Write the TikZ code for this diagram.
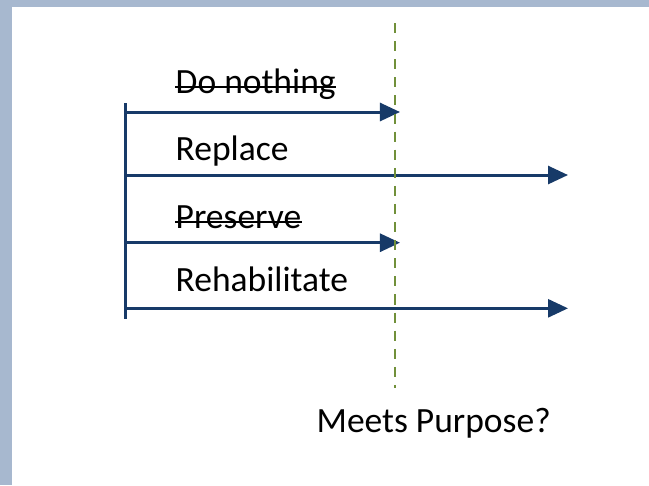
\documentclass[tikz,border=0pt]{standalone}
\usepackage{fontspec}
\setmainfont{Carlito}
\usetikzlibrary{arrows.meta,calc}
\definecolor{framegray}{HTML}{A7B8CF}
\definecolor{optblue}{HTML}{173A68}
\definecolor{purposegreen}{HTML}{71903A}
\tikzset{
  option/.style={anchor=base west, inner sep=0pt, font=\fontsize{10.1}{12}\selectfont},
  optarrow/.style={optblue, line width=0.85pt, -{Triangle[length=5.7pt,width=5.1pt]}},
  strike/.style={black, line width=0.55pt}
}
\begin{document}
\begin{tikzpicture}[scale=0.1]
                          \useasboundingbox (0,0) rectangle (64.9,-48.5);
                          \fill [white] (0,0) rectangle (64.9,-48.5);
                          \fill [framegray] (0,0) rectangle (64.9,-0.7);
                          \fill [framegray] (0,0) rectangle (1.2,-48.5);
                          \coordinate (top) at (12.5,-10.3);
                          \coordinate (bottom) at (12.5,-31.85);
                          \coordinate (s1) at (12.5,-11.2);
                          \coordinate (e1) at (40.0,-11.2);
                          \coordinate (s2) at (12.5,-17.5);
                          \coordinate (e2) at (56.8,-17.5);
                          \coordinate (s3) at (12.5,-24.27);
                          \coordinate (e3) at (40.0,-24.27);
                          \coordinate (s4) at (12.5,-30.83);
                          \coordinate (e4) at (56.8,-30.83);
                          \coordinate (gtop) at (39.5,-2.3);
                          \coordinate (gbottom) at (39.5,-38.8);
                          \draw [optblue, line width=0.85pt] (top) -- (bottom);
                          \draw [optarrow] (s1) -- (e1);
                          \draw [optarrow] (s2) -- (e2);
                          \draw [optarrow] (s3) -- (e3);
                          \draw [optarrow] (s4) -- (e4);
                          \node [option] (nothing) at (17.5,-9.3) {Do nothing};
                          \node [option] (replace) at (17.5,-16.0) {Replace};
                          \node [option] (preserve) at (17.5,-22.83) {Preserve};
                          \node [option] (rehab) at (17.5,-29.17) {Rehabilitate};
                          \node [option] (purpose) at (31.6,-43.2) {Meets Purpose?};
                          \draw [strike] ($(nothing.base west)+(0,0.6)$) -- ($(nothing.base east)+(0,0.6)$);
                          \draw [strike] ($(preserve.base west)+(0,0.6)$) -- ($(preserve.base east)+(0,0.6)$);
                          \draw [purposegreen, line width=0.6pt, dash pattern=on 2.85pt off 2.3pt] (gtop) -- (gbottom);
                      \end{tikzpicture}
\end{document}
